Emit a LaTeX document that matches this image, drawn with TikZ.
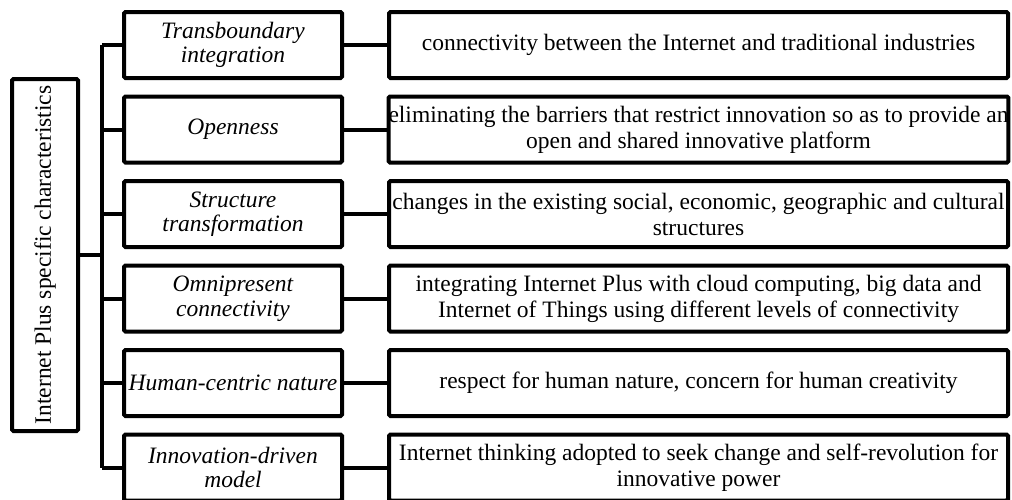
\documentclass[tikz,border=0pt]{standalone}
\usepackage{fontspec}
\setmainfont{Liberation Serif}
\begin{document}
\begin{tikzpicture}[x=1pt,y=-1pt,
  box/.style={draw=black,line width=4pt,rounded corners=1.5pt,inner sep=0pt,align=center,
    font=\fontsize{23.5}{26}\selectfont},
  midbox/.style={box,minimum width=218pt,minimum height=66pt,font=\fontsize{23.5}{24.5}\selectfont\itshape},
  rightbox/.style={box,minimum width=619pt,minimum height=66pt},
  link/.style={draw=black,line width=4pt}]
\useasboundingbox (0,0) rectangle (1012,499);
\begin{scope}
\clip (0,0) rectangle (1012,499);
\node[box,minimum width=66pt,minimum height=352pt] (root) at (45,255) {};
\node[rotate=90,font=\fontsize{23.5}{26}\selectfont] (roottext) at (root.center) {Internet Plus specific characteristics};

\node[midbox] (m1) at (233,45) {Transboundary\\integration};
\node[midbox] (m2) at (233,129.5) {Openness};
\node[midbox] (m3) at (233,214) {Structure\\transformation};
\node[midbox] (m4) at (233,298.5) {Omnipresent\\connectivity};
\node[midbox] (m5) at (233,383) {Human-centric nature};
\node[midbox] (m6) at (233,467.5) {Innovation-driven\\model};

\node[rightbox] (r1) at (698.5,45) {connectivity between the Internet and traditional industries};
\node[rightbox] (r2) at (698.5,129.5) {eliminating the barriers that restrict innovation so as to provide an\\open and shared innovative platform};
\node[rightbox] (r3) at (698.5,214) {changes in the existing social, economic, geographic and cultural\\structures};
\node[rightbox] (r4) at (698.5,298.5) {integrating Internet Plus with cloud computing, big data and\\Internet of Things using different levels of connectivity};
\node[rightbox] (r5) at (698.5,383) {respect for human nature, concern for human creativity};
\node[rightbox] (r6) at (698.5,467.5) {Internet thinking adopted to seek change and self-revolution for\\innovative power};

\coordinate (btop) at (102,45);
\coordinate (bbot) at (102,467.5);
\coordinate (bmid) at (102,255);
\draw[link] (btop) -- (bbot);
\draw[link] (root.east) -- (bmid);
\foreach \i in {1,...,6}{
  \draw[link] (m\i.west -| btop) -- (m\i.west);
  \draw[link] (m\i.east) -- (r\i.west);
}
\end{scope}
\end{tikzpicture}
\end{document}
